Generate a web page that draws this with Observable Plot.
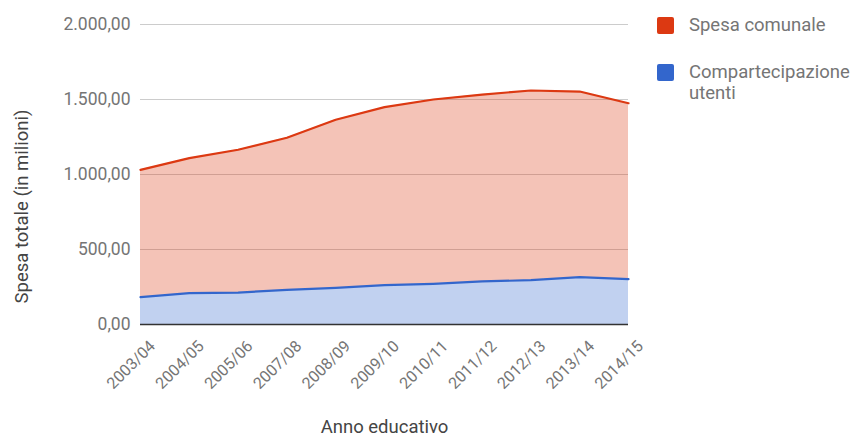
<!DOCTYPE html>
<html>
<head>
<meta charset="utf-8">
<script src="https://cdn.jsdelivr.net/npm/d3@7"></script>
<script src="https://cdn.jsdelivr.net/npm/@observablehq/plot@0.6"></script>
<style>
  html, body { margin: 0; padding: 0; background: #fff; }
  #wrap { position: relative; width: 855px; height: 439px; font-family: Roboto, sans-serif; }
  .leg { position: absolute; left: 657px; font-size: 18.5px; color: #757575; line-height: 21px; }
  .sw { position: absolute; left: 0; width: 17px; height: 17px; border-radius: 2px; }
  .lt { position: absolute; left: 32px; white-space: nowrap; }
</style>
</head>
<body>
<div id="wrap"></div>
<script>
const years = ["2003/04","2004/05","2005/06","2007/08","2008/09","2009/10","2010/11","2011/12","2012/13","2013/14","2014/15"];
const spesaComunale = [1031, 1109, 1165, 1245, 1365, 1449, 1500, 1533, 1560, 1553, 1475];
const compartecipazione = [182, 209, 213, 231, 244, 262, 271, 287, 296, 316, 302];
const yTicks = [0, 500, 1000, 1500, 2000];
const seriesNames = ["Spesa comunale", "Compartecipazione utenti"];
const seriesColors = ["#dc3912", "#3366cc"];

const data = years.map((y, i) => ({year: y, red: spesaComunale[i], blue: compartecipazione[i]}));
const it = d3.formatLocale({decimal: ",", thousands: ".", grouping: [3], currency: ["", "€"]});
const fmt = it.format(",.2f");

const chart = Plot.plot({
  width: 855,
  height: 439,
  marginLeft: 140,
  marginRight: 227,
  marginTop: 24,
  marginBottom: 115,
  style: {fontFamily: "Roboto, sans-serif", background: "transparent", fontSize: "16px"},
  x: {type: "point", domain: years, padding: 0, round: false},
  y: {domain: [0, 2000]},
  marks: [
    Plot.gridY(yTicks.filter(d => d > 0), {stroke: "#cccccc", strokeOpacity: 1, strokeWidth: 1}),
    Plot.areaY(data, {x: "year", y1: "blue", y2: "red", fill: seriesColors[0], fillOpacity: 0.3}),
    Plot.areaY(data, {x: "year", y1: 0, y2: "blue", fill: seriesColors[1], fillOpacity: 0.3}),
    Plot.line(data, {x: "year", y: "red", stroke: seriesColors[0], strokeWidth: 2.2}),
    Plot.line(data, {x: "year", y: "blue", stroke: seriesColors[1], strokeWidth: 2.2}),
    Plot.ruleY([0], {stroke: "#333", strokeWidth: 1.3}),
    Plot.axisY(yTicks, {tickSize: 0, tickPadding: 10, tickFormat: fmt, fontSize: 17.5, fill: "#757575", label: null}),
    Plot.axisX({tickSize: 0, tickRotate: -45, tickPadding: 19, dx: 12, fontSize: 16, fill: "#757575", label: null}),
    Plot.axisX({ticks: [], tickSize: 0, label: "Anno educativo", labelAnchor: "center", labelArrow: false,
      labelOffset: 108, dx: 3}),
    Plot.text(["Spesa totale (in milioni)"], {frameAnchor: "left", text: d => d, rotate: -90, textAnchor: "middle",
      dx: -118, dy: 32, fontSize: 18.5, fill: "#444"})
  ]
});
const wrap = document.getElementById("wrap");
wrap.appendChild(chart);
chart.querySelectorAll("g[aria-label='y-axis tick label']").forEach(g => g.setAttribute("font-size", "17.5"));
chart.querySelectorAll("g[aria-label='x-axis tick label']").forEach(g => g.setAttribute("font-size", "16"));
chart.querySelectorAll("g[aria-label='x-axis label']").forEach(g => {
  g.setAttribute("font-size", "18.5");
  g.querySelectorAll("text").forEach(t => t.setAttribute("fill", "#444"));
});

const legTops = [17, 64];
seriesNames.forEach((name, i) => {
  const d = document.createElement("div");
  d.className = "leg";
  d.style.top = legTops[i] + "px";
  const sw = document.createElement("div");
  sw.className = "sw";
  sw.style.background = seriesColors[i];
  d.appendChild(sw);
  const t = document.createElement("div");
  t.className = "lt";
  t.style.top = "-2px";
  t.innerHTML = i === 1 ? "Compartecipazione<br>utenti" : name;
  d.appendChild(t);
  wrap.appendChild(d);
});
</script>
</body>
</html>
